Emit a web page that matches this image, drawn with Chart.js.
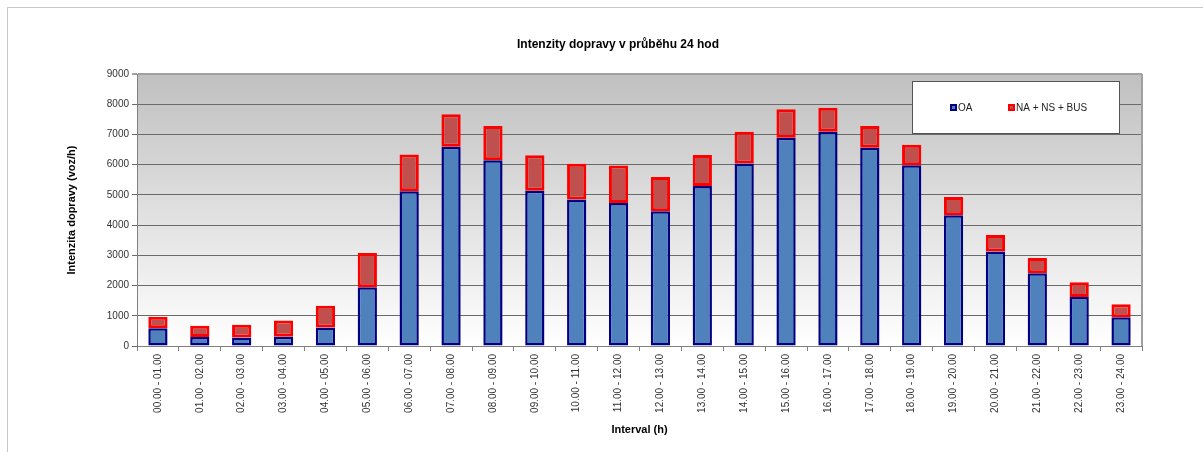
<!DOCTYPE html>
<html>
<head>
<meta charset="utf-8">
<script src="https://cdn.jsdelivr.net/npm/chart.js@4.4.0/dist/chart.umd.min.js"></script>
<style>
	html, body { margin: 0; padding: 0; background: #fff; }
	#frame { position: absolute; left: 7px; top: 7px; width: 1196px; height: 445px; border-top: 1px solid #c8c8c8; border-left: 1px solid #c8c8c8; }
	#graf { position: absolute; left: 0; top: 0; }
</style>
</head>
<body>
<div id="frame"></div>
<canvas id="graf" width="1203" height="452"></canvas>
<script>
const intervaly = ['00.00 - 01.00', '01.00 - 02.00', '02.00 - 03.00', '03.00 - 04.00', '04.00 - 05.00', '05.00 - 06.00',
	'06.00 - 07.00', '07.00 - 08.00', '08.00 - 09.00', '09.00 - 10.00', '10.00 - 11.00', '11.00 - 12.00',
	'12.00 - 13.00', '13.00 - 14.00', '14.00 - 15.00', '15.00 - 16.00', '16.00 - 17.00', '17.00 - 18.00',
	'18.00 - 19.00', '19.00 - 20.00', '20.00 - 21.00', '21.00 - 22.00', '22.00 - 23.00', '23.00 - 24.00']
const oa = [590, 300, 280, 310, 610, 1940, 5120, 6590, 6150, 5140, 4850, 4730,
	4460, 5290, 6040, 6890, 7090, 6560, 5980, 4330, 3130, 2410, 1620, 950]
const nakladni = [380, 370, 420, 530, 720, 1140, 1220, 1080, 1130, 1170, 1180, 1240,
	1130, 1030, 1050, 940, 790, 720, 680, 600, 540, 500, 490, 430]
const yTicks = [0, 1000, 2000, 3000, 4000, 5000, 6000, 7000, 8000, 9000]

const nadpis = 'Intenzity dopravy v průběhu 24 hod'
const font = 'Arial, "Liberation Sans", sans-serif'

// pozadi grafu s prechodem, nadpis, ramecek a legenda
const kresba = {
	id: 'kresba',
	beforeDraw(chart) {
		const {ctx, chartArea: a} = chart
		let g = ctx.createLinearGradient(0, a.top, 0, a.bottom)
		g.addColorStop(0, '#c0c0c0')
		g.addColorStop(1, '#ffffff')
		ctx.save()
		ctx.fillStyle = g
		ctx.fillRect(a.left, a.top, a.right - a.left, a.bottom - a.top)
		ctx.restore()
	},
	afterDraw(chart) {
		const {ctx, chartArea: a} = chart
		ctx.save()
		// pravy okraj
		ctx.strokeStyle = '#a0a0a0'
		ctx.lineWidth = 2
		ctx.beginPath()
		ctx.moveTo(a.right, a.top)
		ctx.lineTo(a.right, a.bottom)
		ctx.stroke()

		ctx.fillStyle = '#000'
		ctx.font = 'bold 12px ' + font
		ctx.textAlign = 'center'
		ctx.textBaseline = 'middle'
		ctx.fillText(nadpis, 618, 45)

		// legenda
		ctx.fillStyle = '#fff'
		ctx.fillRect(912, 81, 207, 52)
		ctx.strokeStyle = '#555'
		ctx.lineWidth = 1
		ctx.strokeRect(912.5, 81.5, 207, 52)
		const pos = [950, 1008]
		chart.data.datasets.forEach((ds, i) => {
			let x = pos[i]
			ctx.fillStyle = ds.borderColor
			ctx.fillRect(x, 104, 7, 7)
			ctx.fillStyle = ds.backgroundColor
			ctx.fillRect(x + 2, 106, 3, 3)
			ctx.fillStyle = '#222'
			ctx.font = '10px ' + font
			ctx.textAlign = 'left'
			ctx.fillText(ds.label, x + 8, 108)
		})
		ctx.restore()
	}
}

const data = {
	labels: intervaly,
	datasets: [{
		label: 'OA',
		data: oa,
		backgroundColor: '#4f81bd',
		borderColor: '#000080',
		borderWidth: 2.5,
		borderSkipped: false,
		barPercentage: 0.46,
		categoryPercentage: 1
	}, {
		label: 'NA + NS + BUS',
		data: nakladni,
		backgroundColor: '#c0504d',
		borderColor: '#ff0000',
		borderWidth: 3,
		borderSkipped: false,
		barPercentage: 0.46,
		categoryPercentage: 1
	}]
}

const config = {
	type: 'bar',
	data: data,
	options: {
		responsive: false,
		animation: false,
		layout: { padding: { left: 61, right: 61, top: 74, bottom: 11 } },
		plugins: {
			legend: { display: false },
			title: { display: false },
			tooltip: { enabled: false }
		},
		scales: {
			x: {
				stacked: true,
				afterFit: s => { s.height = 95 },
				grid: { drawOnChartArea: false, tickLength: 5, color: '#808080' },
				border: { color: '#808080', width: 1 },
				ticks: { autoSkip: false, minRotation: 90, maxRotation: 90, padding: 3, color: '#333', font: { family: font, size: 10 } },
				title: { display: true, text: 'Interval (h)', color: '#000', font: { family: font, size: 11, weight: 'bold' } }
			},
			y: {
				stacked: true,
				min: 0,
				max: 9000,
				afterFit: s => { s.width = 76 },
				afterBuildTicks: s => { s.ticks = yTicks.map(v => ({ value: v })) },
				grid: {
					tickLength: 5,
					color: c => c.tick && c.tick.value === 9000 ? '#a0a0a0' : '#6a6a6a',
					lineWidth: c => c.tick && c.tick.value === 9000 ? 2 : 1
				},
				border: { color: '#808080', width: 1 },
				ticks: { padding: 3, color: '#333', font: { family: font, size: 10 }, callback: v => String(v) },
				title: { display: true, text: 'Intenzita dopravy (voz/h)', color: '#000', font: { family: font, size: 11, weight: 'bold' } }
			}
		}
	},
	plugins: [kresba]
}

let ctx = document.getElementById('graf').getContext('2d')
new Chart(ctx, config)
</script>
</body>
</html>
